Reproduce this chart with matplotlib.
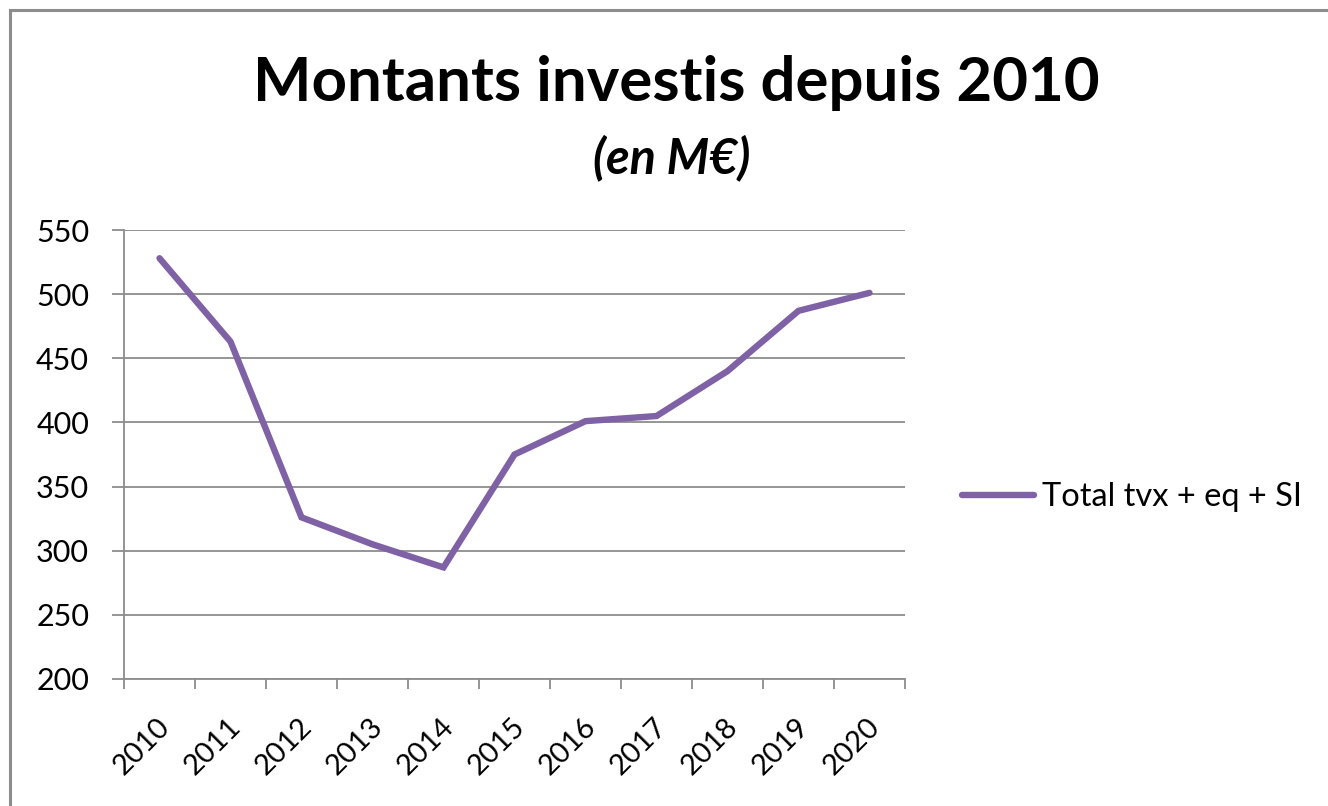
import matplotlib
matplotlib.use("Agg")
import matplotlib.pyplot as plt
from matplotlib.patches import Rectangle
import matplotlib.transforms as mtransforms

years = ["2010", "2011", "2012", "2013", "2014", "2015", "2016", "2017", "2018", "2019", "2020"]
values = [528, 463, 326, 305, 287, 375, 401, 405, 440, 487, 501]
series_name = "Total tvx + eq + SI"
title = "Montants investis depuis 2010"
subtitle = "(en M€)"
yticks = [200, 250, 300, 350, 400, 450, 500, 550]

plt.rcParams['font.family'] = ['Lato', 'DejaVu Sans']

fig = plt.figure(figsize=(13.28, 8.06), dpi=100)
fig.patch.set_facecolor("white")
fig.add_artist(Rectangle((10/1328, -0.05), 1.2, (806-10)/806 + 0.05, transform=fig.transFigure,
                         fill=False, edgecolor="#8c8c8c", linewidth=2.2))

ax = fig.add_axes([124/1328, 1-679/806, (905-124)/1328, (679-230)/806])
x = list(range(len(years)))
line, = ax.plot(x, values, color="#7f62a6", linewidth=4.6, solid_capstyle="round",
                solid_joinstyle="miter", label=series_name, zorder=3)

ax.set_xlim(-0.5, len(years)-0.5)
ax.set_ylim(200, 550)
ax.set_yticks(yticks)
ax.set_yticklabels([str(v) for v in yticks], fontsize=22)
ax.set_xticks([i-0.5 for i in range(len(years)+1)], minor=False)
ax.set_xticklabels([])
ax.set_xticks(x, minor=True)
ax.set_xticklabels(years, minor=True, rotation=45, fontsize=21, ha="right", va="top",
                   rotation_mode="anchor")
ax.tick_params(axis="x", which="minor", length=0, pad=25)
ax.tick_params(axis="x", which="major", length=7.2, color="#8c8c8c", width=1.3, direction="out")
ax.tick_params(axis="y", length=8.6, color="#8c8c8c", width=1.3, direction="out", pad=16.5)
for lbl in ax.get_xticklabels(minor=True):
    lbl.set_transform(lbl.get_transform() + mtransforms.ScaledTranslation(-3/100, 0, fig.dpi_scale_trans))

ax.grid(axis="y", color="#8c8c8c", linewidth=1.3)
ax.set_axisbelow(True)
for s in ["top", "right"]:
    ax.spines[s].set_visible(False)
for s in ["left", "bottom"]:
    ax.spines[s].set_color("#8c8c8c")
    ax.spines[s].set_linewidth(1.3)

fig.text(676/1328, 1-83/806, title, ha="center", va="center", fontsize=44.5, fontweight="bold")
fig.text(672/1328, 1-158/806, subtitle, ha="center", va="center", fontsize=35, fontweight="bold", style="italic")

leg = fig.legend(handles=[line], loc="center left", bbox_to_anchor=(962/1328, 1-497/806),
                 frameon=False, fontsize=23.5, handlelength=2.2, handletextpad=0.25,
                 borderpad=0, borderaxespad=0)

fig.savefig("out.png", dpi=100)
